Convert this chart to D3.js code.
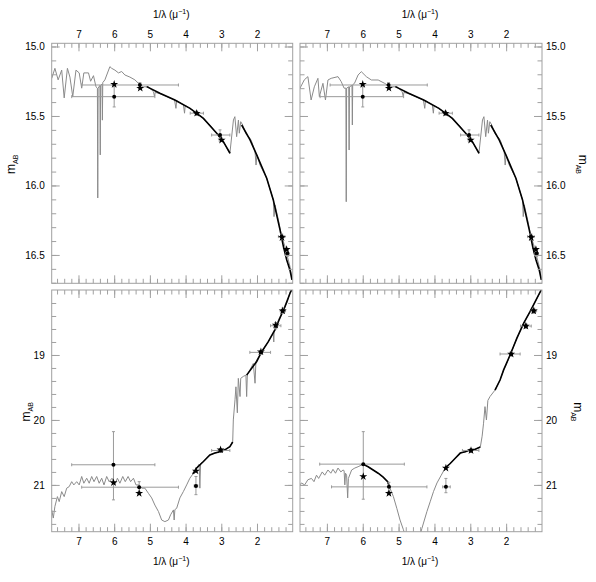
<!DOCTYPE html>
<html lang="en">
<head>
<meta charset="UTF-8">
<title>SED fits</title>
<script src="https://d3js.org/d3.v7.min.js"></script>
<style>
  body { margin: 0; background: #fff; }
  svg text { font-family: "Liberation Sans", Arial, sans-serif; font-size: 10px; fill: #000; }
  .frame { fill: none; stroke: #a0a0a0; stroke-width: 1; }
  .tick line { stroke: #a0a0a0; }
  .gray { fill: none; stroke: #8a8a8a; stroke-width: 1; }
  .black { fill: none; stroke: #000; stroke-width: 1.6; }
  .err { stroke: #9a9a9a; stroke-width: 1; }
</style>
</head>
<body>
<svg width="596" height="582"></svg>
<script>
// values: [1/lambda, m_AB]
const topLeftUV = [[7.75,15.23],[7.66,15.157],[7.57,15.24],[7.47,15.17],[7.40,15.37],[7.31,15.157],[7.24,15.22],[7.16,15.36],
  [7.07,15.17],[6.98,15.19],[6.91,15.30],[6.85,15.19],[6.72,15.19],[6.66,15.25],[6.58,15.21],[6.51,15.29],[6.47,15.30],
  [6.46,16.09],[6.45,15.30],[6.40,15.28],[6.39,15.78],[6.38,15.28],[6.34,15.27],[6.33,15.53],[6.32,15.26],[6.26,15.24],
  [6.12,15.145],[6.07,15.157],[5.98,15.17],[5.88,15.19],[5.79,15.18],[5.70,15.205],[5.56,15.22],[5.42,15.24],[5.32,15.265],[5.18,15.29]];

const topRightUV = [[7.75,15.30],[7.63,15.24],[7.53,15.217],[7.44,15.385],[7.35,15.29],[7.25,15.229],[7.21,15.361],[7.11,15.265],
  [7.04,15.385],[6.97,15.241],[6.88,15.229],[6.69,15.217],[6.60,15.253],[6.52,15.30],[6.47,15.30],[6.46,16.117],[6.45,15.30],
  [6.39,15.29],[6.38,15.745],[6.37,15.29],[6.30,15.28],[6.29,15.565],[6.28,15.275],[6.23,15.265],[6.13,15.205],[6.04,15.181],
  [5.90,15.217],[5.76,15.241],[5.57,15.241],[5.39,15.265],[5.25,15.289],[5.18,15.29]];

const topGrayTail = [[5.04,15.29],[4.90,15.325],[4.87,15.36],[4.85,15.33],[4.72,15.34],[4.53,15.36],[4.31,15.385],[4.27,15.445],
  [4.25,15.39],[4.06,15.42],[4.03,15.48],[4.01,15.425],[3.88,15.445],[3.69,15.48],[3.50,15.52],[3.32,15.565],[3.13,15.625],
  [2.94,15.685],[2.76,15.77],[2.66,15.529],[2.62,15.505],[2.57,15.649],[2.52,15.529],[2.495,15.624],[2.456,15.541],[2.40,15.565],
  [2.335,15.613],[2.29,15.637],[2.195,15.66],[2.148,15.685],[2.055,15.757],[2.027,15.853],[2.0,15.78],[1.915,15.853],
  [1.728,15.948],[1.543,16.104],[1.523,16.224],[1.495,16.14],[1.40,16.248],[1.307,16.368],[1.215,16.44],[1.15,16.51],
  [1.075,16.584],[1.01,16.68]];

const topBlack = [
  [[5.09,15.289],[4.72,15.337],[4.30,15.385],[3.876,15.445],[3.50,15.517],[3.128,15.624],[2.943,15.685],[2.756,15.768]],
  [[2.43,15.565],[2.195,15.672],[2.008,15.78],[1.728,15.948],[1.543,16.104],[1.355,16.32],[1.26,16.44],[1.167,16.536],[1.075,16.61],[1.02,16.68]]
];

const bottomLeftGray = [[7.75,21.385],[7.705,21.51],[7.66,21.33],[7.59,21.18],[7.54,21.257],[7.47,21.103],[7.40,21.18],[7.33,21.05],
  [7.26,21.026],[7.19,20.95],[7.13,21.0],[7.05,20.95],[6.98,21.0],[6.91,20.87],[6.85,20.974],[6.77,20.897],[6.70,20.974],
  [6.63,20.87],[6.565,20.95],[6.49,20.87],[6.42,20.974],[6.35,20.897],[6.285,21.0],[6.21,20.87],[6.14,20.95],[6.06,20.897],
  [5.98,21.0],[5.91,20.897],[5.84,20.974],[5.76,20.87],[5.69,20.95],[5.61,20.87],[5.54,20.95],[5.46,20.897],[5.39,21.0],
  [5.31,21.0],[5.23,21.05],[5.14,21.05],[5.04,21.13],[4.95,21.2],[4.86,21.31],[4.76,21.41],[4.67,21.54],[4.58,21.565],
  [4.48,21.54],[4.42,21.46],[4.34,21.385],[4.32,21.54],[4.30,21.38],[4.25,21.36],[4.16,21.2],[4.06,21.10],[3.97,21.0],
  [3.88,20.897],[3.78,20.82],[3.69,20.74],[3.62,20.68],[3.60,21.05],[3.58,20.67],[3.50,20.64],[3.41,20.59],[3.32,20.54],
  [3.18,20.51],[3.04,20.49],[2.90,20.46],[2.76,20.41],[2.68,20.33],[2.663,20.0],[2.616,19.69],[2.59,19.49],[2.55,19.89],
  [2.523,19.36],[2.475,19.64],[2.456,19.36],[2.383,19.33],[2.31,19.31],[2.29,19.64],[2.27,19.30],[2.243,19.28],[2.103,19.13],
  [2.055,19.435],[2.03,19.10],[2.008,19.08],[1.868,18.95],[1.683,18.795],[1.543,18.666],[1.53,18.80],[1.52,18.66],[1.40,18.46],
  [1.26,18.31],[1.15,18.18],[1.075,18.03],[1.0,17.95]];

const bottomLeftBlack = [
  [[3.80,20.83],[3.69,20.74],[3.50,20.64],[3.32,20.54],[3.18,20.51],[3.04,20.49],[2.90,20.46],[2.76,20.41],[2.68,20.34]],
  [[2.29,19.31],[2.008,19.10],[1.868,18.95],[1.683,18.795],[1.50,18.615],[1.36,18.435],[1.22,18.26],[1.075,18.05],[1.03,18.0]]
];

const bottomRightGray = [[7.75,21.0],[7.71,20.97],[7.62,21.0],[7.53,20.92],[7.43,20.9],[7.36,20.95],[7.29,20.85],[7.23,20.9],
  [7.13,20.8],[7.06,20.85],[6.97,20.77],[6.89,20.82],[6.83,20.76],[6.76,20.82],[6.69,20.74],[6.61,20.8],[6.55,20.77],
  [6.52,20.78],[6.50,21.0],[6.48,20.82],[6.45,20.85],[6.42,21.2],[6.40,20.9],[6.31,20.77],[6.22,20.74],[6.13,20.72],
  [5.985,20.68],[5.85,20.72],[5.71,20.77],[5.57,20.82],[5.43,20.88],[5.305,20.95],[5.24,21.05],[5.145,21.18],[5.05,21.36],
  [4.96,21.54],[4.865,21.69],[4.82,21.77],[4.6,22.2],[4.40,21.77],[4.35,21.67],[4.28,21.54],[4.21,21.41],[4.12,21.26],
  [4.025,21.1],[3.93,20.97],[3.81,20.85],[3.70,20.74],[3.56,20.67],[3.42,20.59],[3.28,20.51],[3.14,20.49],[2.997,20.46],
  [2.86,20.45],[2.72,20.415],[2.67,20.25],[2.63,20.05],[2.59,19.795],[2.55,20.0],[2.51,19.70],[2.45,19.64],[2.31,19.54],
  [2.17,19.385],[2.07,19.23],[2.0,19.15],[1.89,19.0],[1.70,18.74],[1.51,18.51],[1.33,18.33],[1.19,18.18],[1.05,18.03],[1.0,17.97]];

const bottomRightBlack = [
  [[6.0,20.68],[5.85,20.72],[5.71,20.77],[5.57,20.82],[5.43,20.88],[5.305,20.95],[5.24,21.05]],
  [[3.72,20.75],[3.56,20.67],[3.42,20.59],[3.28,20.51],[3.14,20.49],[2.997,20.46],[2.86,20.45],[2.72,20.415]],
  [[2.31,19.54],[2.17,19.385],[2.07,19.23],[1.89,19.0],[1.70,18.74],[1.51,18.51],[1.33,18.33],[1.19,18.18],[1.05,18.03],[1.02,18.0]]
];

// photometry: [1/lambda, m, x lo, x hi, m lo, m hi]
const topDots = [[6.0,15.361,7.19,4.86,15.29,15.435],[5.28,15.277,6.91,4.20,15.26,15.295],[3.69,15.48,3.87,3.50,15.465,15.495],
  [3.035,15.637,3.27,2.76,15.60,15.68],[1.307,16.368,1.40,1.22,16.35,16.39],[1.15,16.49,1.20,1.10,16.47,16.51]];
const topStars = [[6.0,15.272],[5.27,15.30],[3.69,15.48],[2.99,15.673],[1.30,16.375],[1.17,16.46]];

const bottomLeftDots = [[6.02,20.69,7.19,4.86,20.18,21.23],[5.30,21.035,6.91,4.20,20.95,21.10],[3.71,21.015,3.76,3.66,20.87,21.15],
  [3.02,20.47,3.27,2.76,20.44,20.50],[1.89,18.96,2.2,1.62,18.93,18.99],[1.475,18.55,1.62,1.33,18.5,18.6],[1.28,18.32,1.35,1.20,18.28,18.36]];
const bottomLeftStars = [[6.02,20.965],[5.30,21.13],[3.71,20.785],[3.02,20.46],[1.89,18.95],[1.475,18.54],[1.28,18.32]];

const bottomRightDots = [[5.985,20.68,7.20,4.84,20.18,21.22],[5.27,21.03,6.87,4.21,20.96,21.10],[3.68,21.03,3.77,3.56,20.9,21.12],
  [2.98,20.47,3.22,2.76,20.44,20.50],[1.86,18.985,2.17,1.61,18.95,19.02],[1.45,18.555,1.60,1.30,18.52,18.59],[1.23,18.32,1.30,1.15,18.28,18.36]];
const bottomRightStars = [[5.985,20.87],[5.27,21.13],[3.68,20.74],[2.98,20.47],[1.86,18.985],[1.45,18.555],[1.23,18.32]];

const xMajor = [2, 3, 4, 5, 6, 7];
const xMinor = d3.range(6, 39).map(i => i / 5);
const topMajor = [15.0, 15.5, 16.0, 16.5];
const topMinor = d3.range(150, 168).map(i => i / 10);
const bottomMajor = [19, 20, 21];
const bottomMinor = d3.range(91, 109).map(i => i / 5);

const svg = d3.select("svg");

const xLeft = d3.scaleLinear().domain([7.75, 1.0]).range([51.7, 292.7]);
const xRight = d3.scaleLinear().domain([7.75, 1.0]).range([300, 542]);
const yTop = d3.scaleLinear().domain([14.977, 16.704]).range([43.3, 283.3]);
const yBottom = d3.scaleLinear().domain([18.0, 21.72]).range([290, 531.7]);

const panels = [
  {id: "tl", x: xLeft, y: yTop, gray: topLeftUV.concat(topGrayTail), black: topBlack, dots: topDots, stars: topStars,
   side: "left", top: true, major: topMajor, minor: topMinor, fmt: d3.format(".1f"), labelX: 15},
  {id: "tr", x: xRight, y: yTop, gray: topRightUV.concat(topGrayTail), black: topBlack, dots: topDots, stars: topStars,
   side: "right", top: true, major: topMajor, minor: topMinor, fmt: d3.format(".1f"), labelX: 578.5},
  {id: "bl", x: xLeft, y: yBottom, gray: bottomLeftGray, black: bottomLeftBlack, dots: bottomLeftDots, stars: bottomLeftStars,
   side: "left", top: false, major: bottomMajor, minor: bottomMinor, fmt: d3.format("d"), labelX: 30},
  {id: "br", x: xRight, y: yBottom, gray: bottomRightGray, black: bottomRightBlack, dots: bottomRightDots, stars: bottomRightStars,
   side: "right", top: false, major: bottomMajor, minor: bottomMinor, fmt: d3.format("d"), labelX: 573.5}
];

const star = d3.symbol().type(d3.symbolStar).size(20);

panels.forEach(p => {
  const [x0, x1] = p.x.range(), [y0, y1] = p.y.range();
  const g = svg.append("g");

  g.append("clipPath").attr("id", "clip-" + p.id)
    .append("rect").attr("x", x0).attr("y", y0).attr("width", x1 - x0).attr("height", y1 - y0);

  const plot = g.append("g").attr("clip-path", `url(#clip-${p.id})`);
  const line = d3.line().x(d => p.x(d[0])).y(d => p.y(d[1]));

  plot.append("path").attr("class", "gray").attr("d", line(p.gray));
  p.black.forEach(seg => plot.append("path").attr("class", "black").attr("d", line(seg)));

  // error bars with small end caps
  const eb = plot.append("g").attr("class", "err");
  p.dots.forEach(d => {
    const cx = p.x(d[0]), cy = p.y(d[1]);
    const xa = p.x(d[2]), xb = p.x(d[3]), ya = p.y(d[4]), yb = p.y(d[5]);
    eb.append("line").attr("x1", xa).attr("x2", xb).attr("y1", cy).attr("y2", cy);
    eb.append("line").attr("x1", xa).attr("x2", xa).attr("y1", cy - 1.5).attr("y2", cy + 1.5);
    eb.append("line").attr("x1", xb).attr("x2", xb).attr("y1", cy - 1.5).attr("y2", cy + 1.5);
    eb.append("line").attr("x1", cx).attr("x2", cx).attr("y1", ya).attr("y2", yb);
    eb.append("line").attr("x1", cx - 1.5).attr("x2", cx + 1.5).attr("y1", ya).attr("y2", ya);
    eb.append("line").attr("x1", cx - 1.5).attr("x2", cx + 1.5).attr("y1", yb).attr("y2", yb);
  });

  plot.selectAll("circle.dot").data(p.dots).enter().append("circle")
    .attr("cx", d => p.x(d[0])).attr("cy", d => p.y(d[1])).attr("r", 2).attr("fill", "#000");
  plot.selectAll("path.star").data(p.stars).enter().append("path")
    .attr("d", star).attr("fill", "#000")
    .attr("transform", d => `translate(${p.x(d[0])},${p.y(d[1])})`);

  // frame
  g.append("rect").attr("class", "frame").attr("x", x0).attr("y", y0).attr("width", x1 - x0).attr("height", y1 - y0);

  // ticks on all four sides, pointing inward
  const axes = [
    {make: d3.axisTop, scale: p.x, tr: `translate(0,${y0})`, pad: 5, major: xMajor, minor: xMinor, on: p.top, fmt: d3.format("d")},
    {make: d3.axisBottom, scale: p.x, tr: `translate(0,${y1})`, pad: 6, major: xMajor, minor: xMinor, on: !p.top, fmt: d3.format("d")},
    {make: d3.axisLeft, scale: p.y, tr: `translate(${x0},0)`, pad: 7, major: p.major, minor: p.minor, on: p.side === "left", fmt: p.fmt},
    {make: d3.axisRight, scale: p.y, tr: `translate(${x1},0)`, pad: 4, major: p.major, minor: p.minor, on: p.side === "right", fmt: p.fmt}
  ];
  axes.forEach(a => {
    g.append("g").attr("transform", a.tr)
      .call(a.make(a.scale).tickValues(a.minor).tickSize(-4.5).tickFormat(""))
      .call(s => s.select(".domain").remove());
    g.append("g").attr("transform", a.tr)
      .call(a.make(a.scale).tickValues(a.major).tickSize(-8).tickPadding(a.pad).tickFormat(a.on ? a.fmt : ""))
      .call(s => s.select(".domain").remove())
      .call(s => s.attr("font-size", null).attr("font-family", null));
  });

  // axis titles
  const cx = (x0 + x1) / 2 - 1;
  const t = g.append("text").attr("x", cx).attr("y", p.top ? 18 : 565).attr("text-anchor", "middle");
  t.append("tspan").text("1/λ (μ");
  t.append("tspan").attr("dy", -4).style("font-size", "7px").text("−1");
  t.append("tspan").attr("dy", 4).text(")");

  const cy = (y0 + y1) / 2 + 1;
  const rot = p.side === "left" ? -90 : 90;
  const m = g.append("text").attr("text-anchor", "middle")
    .attr("transform", `translate(${p.labelX},${cy}) rotate(${rot})`);
  m.append("tspan").style("font-size", "12px").text("m");
  m.append("tspan").attr("dy", 3).style("font-size", "7px").text("AB");
});
</script>
</body>
</html>
